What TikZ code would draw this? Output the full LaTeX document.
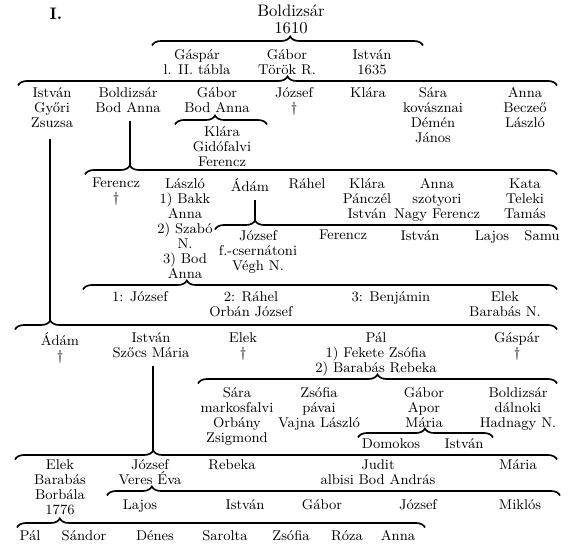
\documentclass[tikz,border=0pt]{standalone}
\usetikzlibrary{decorations.pathreplacing}
\begin{document}
\begin{tikzpicture}[x=0.6pt, y=-0.6pt,
    every node/.style={font=\fontsize{8.5}{9}\selectfont, align=center, anchor=north, inner sep=0pt},
    ag/.style={decorate, decoration={brace, amplitude=5.4pt, aspect=#1}, line width=1pt},
    tors/.style={line width=1pt, shorten <=5pt}]
    \useasboundingbox (0,0) rectangle (574,550);
    % torzs
    \node[font=\fontsize{10}{10.2}\selectfont\bfseries] (tabla) at (56,8) {I.};
    \node[font=\fontsize{10}{10.2}\selectfont] (os) at (291,5) {Boldizsár\\1610};
    \draw[ag=.51] (152,45.5) -- (423,45.5);
    \node (gaspar) at (197,49) {Gáspár\\l. II. tábla};
    \node (gabor) at (287,49) {Gábor\\Török R.};
    \node (istvan) at (372,49) {István\\1635};
    \draw[ag=.5] (18,85.5) -- (557,85.5);
    % Gábor gyermekei
    \node (r2a) at (52,87) {István\\Győri\\Zsuzsa};
    \node (r2b) at (128,87) {Boldizsár\\Bod Anna};
    \node (r2c) at (217,87) {Gábor\\Bod Anna};
    \node (r2d) at (294,87) {József\\\dag};
    \node (r2e) at (368,87) {Klára};
    \node (r2f) at (433,87) {Sára\\kovásznai\\Démén\\János};
    \node (r2g) at (525,87) {Anna\\Beczeő\\László};
    \draw[ag=.435] (175,124.5) -- (267,124.5);
    \node (r3) at (222,126) {Klára\\Gidófalvi\\Ferencz};
    % Boldizsár ága
    \draw[ag=.095] (85,174.5) -- (557,174.5);
    \coordinate (k4) at (130,165.5);
    \draw[tors] (r2b.south -| k4) -- (k4);
    \node (r4a) at (116,178) {Ferencz\\\dag};
    \node (r4b) at (185,178) {László\\1) Bakk\\Anna\\2) Szabó\\N.\\3) Bod\\Anna};
    \node (r4c) at (250,178) {Ádám};
    \node (r4d) at (307,178) {Ráhel};
    \node (r4e) at (367,178) {Klára\\Pánczél\\István};
    \node (r4f) at (437,178) {Anna\\szotyori\\Nagy Ferencz};
    \node (r4g) at (525,178) {Kata\\Teleki\\Tamás};
    \draw[ag=.117] (215,229.5) -- (557,229.5);
    \coordinate (k5) at (255,220.5);
    \draw[tors] (r4c.south -| k5) -- (k5);
    \node (r5a) at (258,230) {József\\f.-csernátoni\\Végh N.};
    \node (r5b) at (343,230) {Ferencz};
    \node (r5c) at (420,230) {István};
    \node (r5d) at (492,230) {Lajos};
    \node (r5e) at (542,230) {Samu};
    \draw[ag=.219] (83,289.5) -- (557,289.5);
    \node (r6a) at (140,291) {1: József};
    \node (r6b) at (251,291) {2: Ráhel\\Orbán József};
    \node (r6c) at (391,291) {3: Benjámin};
    \node (r6d) at (505,291) {Elek\\Barabás N.};
    % István ága
    \draw[ag=.065] (15,329.5) -- (557,329.5);
    \coordinate (k7) at (50,320.5);
    \draw[tors, shorten <=6.5pt] (r2a.south -| k7) -- (k7);
    \node (r7a) at (60,332) {Ádám\\\dag};
    \node (r7b) at (151,332) {István\\Szőcs Mária};
    \node (r7c) at (243,332) {Elek\\\dag};
    \node (r7d) at (376,332) {Pál\\1) Fekete Zsófia\\2) Barabás Rebeka};
    \node (r7e) at (517,332) {Gáspár\\\dag};
    \draw[ag=.5] (198,383.5) -- (557,383.5);
    \node (r8a) at (237,387) {Sára\\markosfalvi\\Orbány\\Zsigmond};
    \node (r8b) at (319,387) {Zsófia\\pávai\\Vajna László};
    \node (r8c) at (424,387) {Gábor\\Apor\\Mária};
    \node (r8d) at (518,387) {Boldizsár\\dálnoki\\Hadnagy N.};
    \draw[ag=.496] (358,437.5) -- (493,437.5);
    \node (r9a) at (391,438) {Domokos};
    \node (r9b) at (464,438) {István};
    \draw[ag=.255] (15,459.5) -- (557,459.5);
    \coordinate (k10) at (153,450.5);
    \draw[tors] (r7b.south -| k10) -- (k10);
    \node (r10a) at (60,459) {Elek\\Barabás\\Borbála\\1776};
    \node (r10b) at (150,459) {József\\Veres Éva};
    \node (r10c) at (232,459) {Rebeka};
    \node (r10d) at (378,459) {Judit\\albisi Bod András};
    \node (r10e) at (518,459) {Mária};
    \draw[ag=.099] (107,495.5) -- (560,495.5);
    \node (r11a) at (140,499) {Lajos};
    \node (r11b) at (245,499) {István};
    \node (r11c) at (322,499) {Gábor};
    \node (r11d) at (418,499) {József};
    \node (r11e) at (520,499) {Miklós};
    \draw[ag=.105] (17,527.5) -- (425,527.5);
    \node (r12a) at (30,530) {Pál};
    \node (r12b) at (84,530) {Sándor};
    \node (r12c) at (155,530) {Dénes};
    \node (r12d) at (225,530) {Sarolta};
    \node (r12e) at (291,530) {Zsófia};
    \node (r12f) at (347,530) {Róza};
    \node (r12g) at (398,530) {Anna};
\end{tikzpicture}
\end{document}
